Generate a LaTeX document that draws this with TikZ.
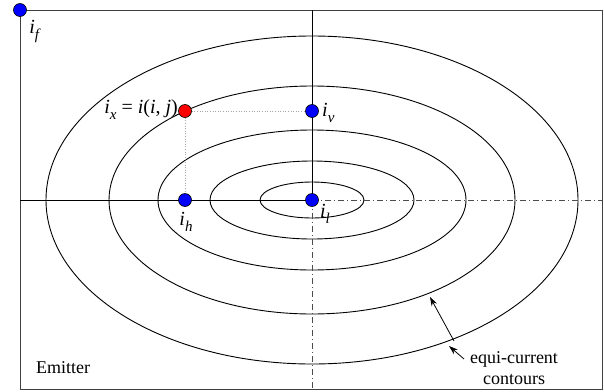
\documentclass[tikz,border=0pt]{standalone}
\usepackage{fontspec}
\setmainfont{Liberation Serif}
\usetikzlibrary{arrows.meta}
\newcommand{\mysub}[1]{\raisebox{-0.3em}{\fontsize{15}{15}\selectfont\textit{#1}}}
\begin{document}
\begin{tikzpicture}[x=1pt,y=-1pt,
  font=\fontsize{18}{21}\selectfont,
  dot/.style={circle,draw=black,line width=0.6pt,minimum size=13pt,inner sep=0pt},
  bluedot/.style={dot,fill=blue},
  reddot/.style={dot,fill=red},
  contour/.style={line width=0.9pt},
  axisline/.style={line width=0.9pt},
  guide/.style={dash pattern=on 6pt off 3pt on 1pt off 3pt,line width=0.6pt,black!70},
  proj/.style={dotted,line width=0.6pt,black!35},
  pointer/.style={line width=0.8pt,-{Stealth[length=9pt,width=6pt]}},
  lbl/.style={inner sep=0pt},
  mlbl/.style={inner sep=0pt,font=\fontsize{20}{22}\selectfont}]
\useasboundingbox (0,0) rectangle (604,391);
\draw[line width=1pt,black!75] (20,10) rectangle (602,389);
\coordinate (c) at (312,200);
\coordinate (axL) at (20,200);
\coordinate (axR) at (602,200);
\coordinate (axT) at (312,10);
\coordinate (axB) at (312,389);
% contours
\draw[contour] (c) ellipse [x radius=266pt,y radius=164pt];
\draw[contour] (c) ellipse [x radius=203pt,y radius=114pt];
\draw[contour] (c) ellipse [x radius=154pt,y radius=70pt];
\draw[contour] (c) ellipse [x radius=102pt,y radius=39pt];
\draw[contour] (c) ellipse [x radius=52pt,y radius=18pt];
% axes
\draw[axisline] (axL) -- (c);
\draw[axisline] (axT) -- (c);
\draw[guide] (c) -- (axR);
\draw[guide] (c) -- (axB);
% points
\node[bluedot] (if) at (20,10) {};
\node[reddot] (ix) at (185,111) {};
\node[bluedot] (iv) at (312,111) {};
\node[bluedot] (ih) at (185,200) {};
\node[bluedot] (il) at (312,200) {};
\draw[proj] (ix) -- (iv);
\draw[proj] (ix) -- (ih);
% labels
\node[mlbl] (lf) at (35,31) {\textit{i}\mysub{f}};
\node[mlbl,anchor=east] (lx) at (178,110) {\textit{i}\mysub{x} = \textit{i}(\textit{i}, \textit{j})};
\node[mlbl,anchor=west] (lv) at (322,113) {\textit{i}\mysub{v}};
\node[mlbl] (lh) at (186,222) {\textit{i}\mysub{h}};
\node[mlbl] (ll) at (325,214) {\textit{i}\mysub{l}};
\node[lbl] (em) at (63,368) {Emitter};
\node[lbl,align=center] (eq) at (514,368) {equi-current\\contours};
\coordinate (tipA) at (449,346);
\coordinate (tipB) at (430,297);
\draw[pointer] (464,359) -- (tipA);
\draw[pointer] (454,341) -- (tipB);
\end{tikzpicture}
\end{document}
